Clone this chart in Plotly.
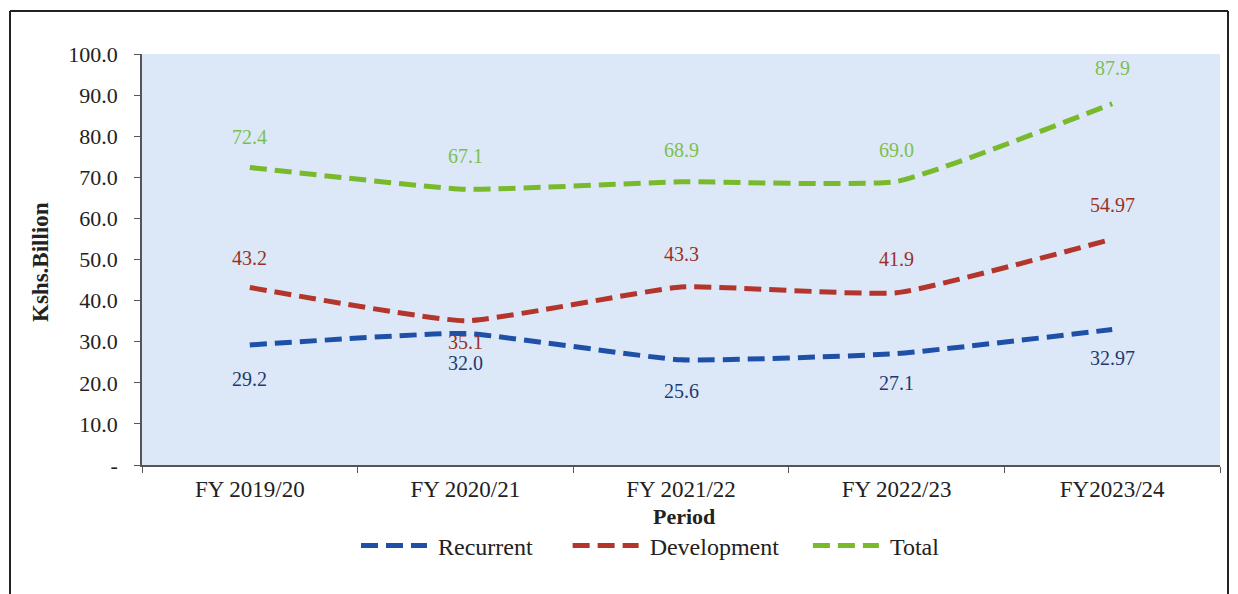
import plotly.graph_objects as go

periods = ["FY 2019/20", "FY 2020/21", "FY 2021/22", "FY 2022/23", "FY2023/24"]
recurrent = [29.2, 32.0, 25.6, 27.1, 32.97]
development = [43.2, 35.1, 43.3, 41.9, 54.97]
total = [72.4, 67.1, 68.9, 69.0, 87.9]
recurrent_lbl = ["29.2", "32.0", "25.6", "27.1", "32.97"]
development_lbl = ["43.2", "35.1", "43.3", "41.9", "54.97"]
total_lbl = ["72.4", "67.1", "68.9", "69.0", "87.9"]
recurrent_shift = [-34, -30, -31, -29, -29]
development_shift = [29, -21, 33, 34, 34]
total_shift = [30, 33, 32, 31, 36]

ytick_vals = [0, 10, 20, 30, 40, 50, 60, 70, 80, 90, 100]
ytick_text = ["-", "10.0", "20.0", "30.0", "40.0", "50.0", "60.0", "70.0", "80.0", "90.0", "100.0"]

FONT = "Liberation Serif"
NB = "\u00a0"
series = [
    (NB + "Recurrent" + NB * 5, recurrent, recurrent_lbl, "#1f50a8", "#1f3a70", recurrent_shift),
    (NB + "Development" + NB * 4, development, development_lbl, "#b3352b", "#9a3024", development_shift),
    (NB + "Total", total, total_lbl, "#79b92c", "#7cbf4f", total_shift),
]

fig = go.Figure()
annotations = []
for name, vals, lbls, col, tcol, shifts in series:
    fig.add_trace(go.Scatter(
        x=periods, y=vals, name=name, mode="lines",
        line=dict(color=col, width=5, dash="17px,8px", shape="spline", smoothing=0.4),
    ))
    for p, v, t, s in zip(periods, vals, lbls, shifts):
        annotations.append(dict(
            x=p, y=v, text=t, showarrow=False, yshift=s,
            font=dict(family=FONT, size=20, color=tcol),
        ))

# page has an 8px body margin; figure is drawn offset by (8, 8)
OFF = 8
W, H = 1238 - OFF, 594 - OFF
l, r, t, b = 142 - OFF, 18, 54 - OFF, 129
pw, ph = W - l - r, H - t - b

def px(xp):
    return (xp - OFF - l) / pw

def py(yp):
    return (H - b - (yp - OFF)) / ph

annotations.append(dict(
    xref="paper", yref="paper", x=px(40), y=py(262), text="<b>Kshs.Billion</b>",
    textangle=-90, showarrow=False, xanchor="center", yanchor="middle",
    font=dict(family=FONT, size=23, color="#222222"),
))
annotations.append(dict(
    xref="paper", yref="paper", x=px(684), y=py(516), text="<b>Period</b>",
    showarrow=False, xanchor="center", yanchor="middle",
    font=dict(family=FONT, size=22, color="#222222"),
))

frame = dict(color="#222222", width=2)
shapes = [
    dict(type="line", xref="paper", yref="paper", x0=px(10), x1=px(10), y0=py(11), y1=py(640), line=frame),
    dict(type="line", xref="paper", yref="paper", x0=px(10), x1=px(1228), y0=py(11), y1=py(11), line=frame),
    dict(type="line", xref="paper", yref="paper", x0=px(1228), x1=px(1228), y0=py(11), y1=py(640), line=frame),
]

fig.update_layout(
    width=W, height=H,
    margin=dict(l=l, r=r, t=t, b=b, autoexpand=False),
    paper_bgcolor="white",
    plot_bgcolor="#dce8f8",
    font=dict(family=FONT, size=22, color="#222222"),
    showlegend=True,
    legend=dict(orientation="h", x=px(356), xanchor="left", y=py(546), yanchor="middle",
                font=dict(family=FONT, size=24, color="#222222"), itemwidth=66,
                bgcolor="rgba(0,0,0,0)"),
    annotations=annotations,
    shapes=shapes,
)
fig.update_xaxes(
    type="category", tickson="boundaries", range=[-0.5, 4.5], showgrid=False,
    showline=True, linecolor="#555555", linewidth=1.5,
    ticks="outside", ticklen=6, tickcolor="#555555", ticklabelstandoff=3,
    tickfont=dict(family=FONT, size=23, color="#222222"),
)
fig.update_yaxes(
    range=[0, 100], tickvals=ytick_vals, ticktext=ytick_text, showgrid=False,
    showline=True, linecolor="#555555", linewidth=1.5,
    ticks="outside", ticklen=6, tickcolor="#555555", zeroline=False, ticklabelstandoff=12,
    tickfont=dict(family=FONT, size=22, color="#222222"),
)

fig.write_html("out.html")
